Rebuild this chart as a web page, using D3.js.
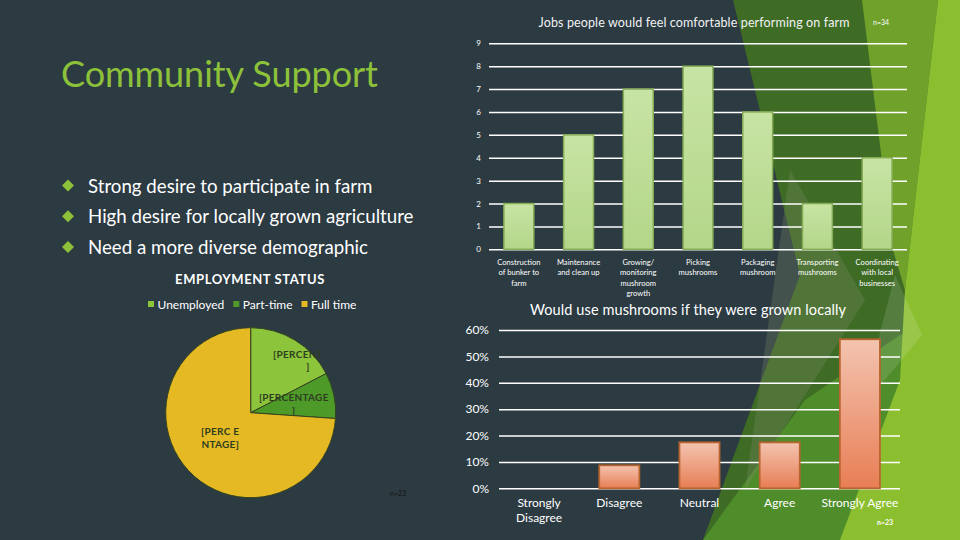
<!DOCTYPE html>
<html><head><meta charset="utf-8">
<script src="https://cdn.jsdelivr.net/npm/d3@7"></script>
<style>
html,body{margin:0;padding:0;background:#2c3a42;}
svg{display:block;}
text{font-family:Lato,"Open Sans",sans-serif;}
</style></head>
<body>
<svg id="c" width="960" height="540"></svg>
<script>
// ---------- DATA ----------
const slideTitle = "Community Support";
const bullets = ["Strong desire to participate in farm","High desire for locally grown agriculture","Need a more diverse demographic"];

const jobTitle = "Jobs people would feel comfortable performing on farm";
const jobN = "n=34";
const jobCategories = ["Construction\nof bunker to\nfarm","Maintenance\nand clean up","Growing/\nmonitoring\nmushroom\ngrowth","Picking\nmushrooms","Packaging\nmushroom","Transporting\nmushrooms","Coordinating\nwith local\nbusinesses"];
const jobValues = [2,5,7,8,6,2,4];
const jobTicks = [0,1,2,3,4,5,6,7,8,9];

const useTitle = "Would use mushrooms if they were grown locally";
const useN = "n=23";
const useCategories = ["Strongly\nDisagree","Disagree","Neutral","Agree","Strongly Agree"];
const useValues = [0, 0.087, 0.174, 0.174, 0.565];
const useTicks = [0,0.1,0.2,0.3,0.4,0.5,0.6];

const empTitle = "EMPLOYMENT STATUS";
const empN = "n=23";
const empCategories = ["Unemployed","Part-time","Full time"];
const empValues = [4,2,17];
const empLabels = ["[PERCENTAGE\n]","[PERCENTAGE\n]","[PERC E\nNTAGE]"];

// ---------- STYLE ----------
const empColors = ["#8cc43b","#4e9a29","#e4b923"];
const svg = d3.select("#c");
const defs = svg.append("defs");

// background decoration (theme facets)
const facets = [
  {pts:[[733,0],[960,0],[960,540],[703,540],[800,275]], fill:"#3e6c25", op:1},
  {pts:[[703,540],[960,540],[960,320],[900,335],[805,400]], fill:"#4f8d2b", op:1},
  {pts:[[790,170],[865,300],[745,490]], fill:"#7d8a66", op:0.3},
  {pts:[[862,0],[938,0],[905,290],[893,250]], fill:"#6fa12b", op:1},
  {pts:[[938,0],[960,0],[960,540],[840,540],[900,380],[905,290]], fill:"#8cbf30", op:1},
  {pts:[[895,275],[922,335],[860,410]], fill:"#ffffff", op:0.12}
];
svg.append("rect").attr("width",960).attr("height",540).attr("fill","#2c3a42");
svg.append("g").selectAll("polygon").data(facets).join("polygon")
  .attr("points",d=>d.pts.map(p=>p.join(",")).join(" "))
  .attr("fill",d=>d.fill).attr("fill-opacity",d=>d.op);

// ---------- LEFT TEXT ----------
svg.append("text").attr("x",61).attr("y",87).attr("font-size",36)
  .attr("fill","#8dc13a").attr("textLength",317).text(slideTitle);
const by = d3.scaleLinear().domain([0,2]).range([192.5,254]);
const bg = svg.append("g");
bullets.forEach((b,i)=>{
  const y = by(i);
  bg.append("path").attr("d",`M68,${y-13}l6,6l-6,6l-6,-6z`).attr("fill","#8dc13a");
  bg.append("text").attr("x",88).attr("y",y).attr("font-size",18.7).attr("fill","#ffffff").text(b);
});

// ---------- TOP BAR CHART ----------
{
  const x = d3.scaleBand().domain(jobCategories).range([489,907]).paddingInner(0.5).paddingOuter(0.25);
  const y = d3.scaleLinear().domain([0,9]).range([249.3,43.3]);
  const grad = defs.append("linearGradient").attr("id","gGreen").attr("x1",0).attr("x2",0).attr("y1",0).attr("y2",1);
  grad.append("stop").attr("offset","0").attr("stop-color","#c8e4a4");
  grad.append("stop").attr("offset","1").attr("stop-color","#b3d689");
  const ax = svg.append("g").attr("transform","translate(489,0)")
    .call(d3.axisLeft(y).tickValues(jobTicks).tickSize(-418).tickPadding(8).tickFormat(d3.format("d")));
  ax.select(".domain").remove();
  ax.selectAll("line").attr("stroke","#ffffff").attr("stroke-width",1.5);
  ax.selectAll("text").attr("fill","#ffffff").attr("font-size",8).attr("font-family","Lato");
  svg.append("g").selectAll("rect").data(jobValues).join("rect")
    .attr("x",(d,i)=>x(jobCategories[i])).attr("width",x.bandwidth())
    .attr("y",d=>y(d)).attr("height",d=>y(0)-y(d))
    .attr("fill","url(#gGreen)").attr("stroke","#86ad55").attr("stroke-width",1.5);
  const lab = svg.append("g").selectAll("text").data(jobCategories).join("text")
    .attr("text-anchor","middle").attr("fill","#ffffff").attr("font-size",7.6);
  lab.each(function(d){
    const t=d3.select(this);
    d.split("\n").forEach((s,j)=>t.append("tspan").attr("x",x(d)+x.bandwidth()/2).attr("y",264.5+j*10.5).text(s));
  });
  svg.append("text").attr("x",694).attr("y",27).attr("text-anchor","middle").attr("font-size",12.5)
    .attr("fill","#f2f2f2").attr("textLength",311).text(jobTitle);
  svg.append("text").attr("x",873).attr("y",25).attr("font-size",7).attr("fill","#ffffff").text(jobN);
}

// ---------- BOTTOM BAR CHART ----------
{
  const x = d3.scaleBand().domain(useCategories).range([499,900]).paddingInner(0.5).paddingOuter(0.25);
  const y = d3.scaleLinear().domain([0,0.6]).range([488.3,330]);
  const grad = defs.append("linearGradient").attr("id","gOrange").attr("x1",0).attr("x2",0).attr("y1",0).attr("y2",1);
  grad.append("stop").attr("offset","0").attr("stop-color","#f3c4b0");
  grad.append("stop").attr("offset","1").attr("stop-color","#e87e55");
  const ax = svg.append("g").attr("transform","translate(499,0)")
    .call(d3.axisLeft(y).tickValues(useTicks).tickSize(-401).tickPadding(10).tickFormat(d3.format(".0%")));
  ax.select(".domain").remove();
  ax.selectAll("line").attr("stroke","#ffffff").attr("stroke-width",1.5);
  ax.selectAll("text").attr("fill","#ffffff").attr("font-size",12).attr("font-family","Lato");
  svg.append("g").selectAll("rect").data(useValues).join("rect")
    .attr("x",(d,i)=>x(useCategories[i])).attr("width",x.bandwidth())
    .attr("y",d=>y(d)).attr("height",d=>y(0)-y(d))
    .attr("fill","url(#gOrange)").attr("stroke","#b8652f").attr("stroke-width",1.8)
    .attr("visibility",d=>d>0?"visible":"hidden");
  const lab = svg.append("g").selectAll("text").data(useCategories).join("text")
    .attr("text-anchor","middle").attr("fill","#ffffff").attr("font-size",12);
  lab.each(function(d){
    const t=d3.select(this);
    d.split("\n").forEach((s,j)=>t.append("tspan").attr("x",x(d)+x.bandwidth()/2).attr("y",507+j*15).text(s));
  });
  svg.append("text").attr("x",688).attr("y",315).attr("text-anchor","middle").attr("font-size",14.5)
    .attr("fill","#ffffff").attr("textLength",316).text(useTitle);
  svg.append("text").attr("x",877).attr("y",525).attr("font-size",7).attr("font-weight","bold").attr("fill","#ffffff").text(useN);
}

// ---------- PIE ----------
{
  const cx=250.7, cy=412.7, r=85;
  svg.append("text").attr("x",250).attr("y",284).attr("text-anchor","middle").attr("font-size",13)
    .attr("font-weight","bold").attr("fill","#ffffff").attr("letter-spacing",0.6).text(empTitle);
  // legend
  let lx = 148;
  const lg = svg.append("g");
  empCategories.forEach((c,i)=>{
    lg.append("rect").attr("x",lx).attr("y",301).attr("width",6).attr("height",6).attr("fill",empColors[i]);
    const t = lg.append("text").attr("x",lx+9.5).attr("y",309).attr("font-size",12).attr("fill","#ffffff").text(c);
    lx += 9.5 + t.node().getComputedTextLength() + 9;
  });
  const pie = d3.pie().sort(null).value(d=>d);
  const arcs = pie(empValues);
  const arc = d3.arc().innerRadius(0).outerRadius(r);
  const g = svg.append("g").attr("transform",`translate(${cx},${cy})`);
  g.selectAll("path").data(arcs).join("path").attr("d",arc)
    .attr("fill",(d,i)=>empColors[i]).attr("stroke","#35441f").attr("stroke-width",1);
  const labelArc = d3.arc().innerRadius(43).outerRadius(43);
  const nudge = [[35,-15.5],[1,0],[1,-4]];
  defs.append("clipPath").attr("id","clipU").append("rect").attr("x",-200).attr("y",-200).attr("width",270.5).attr("height",400);
  arcs.forEach((a,i)=>{
    const [px,py] = labelArc.centroid(a);
    const lines = empLabels[i].split("\n");
    const n = lines.length, lh = 12.4;
    const t = g.append("text").attr("text-anchor","middle").attr("font-size",10).attr("font-weight","bold")
      .attr("fill","#2e3d21").attr("letter-spacing",0.3);
    if(i===0) t.attr("clip-path","url(#clipU)");
    lines.forEach((s,j)=>t.append("tspan").attr("x",px+nudge[i][0])
      .attr("y",py+nudge[i][1]+(j-(n-1)/2)*lh+3.5).text(s));
  });
  svg.append("text").attr("x",390).attr("y",496).attr("font-size",7).attr("fill","#151515").text(empN);
}
</script>
</body></html>
